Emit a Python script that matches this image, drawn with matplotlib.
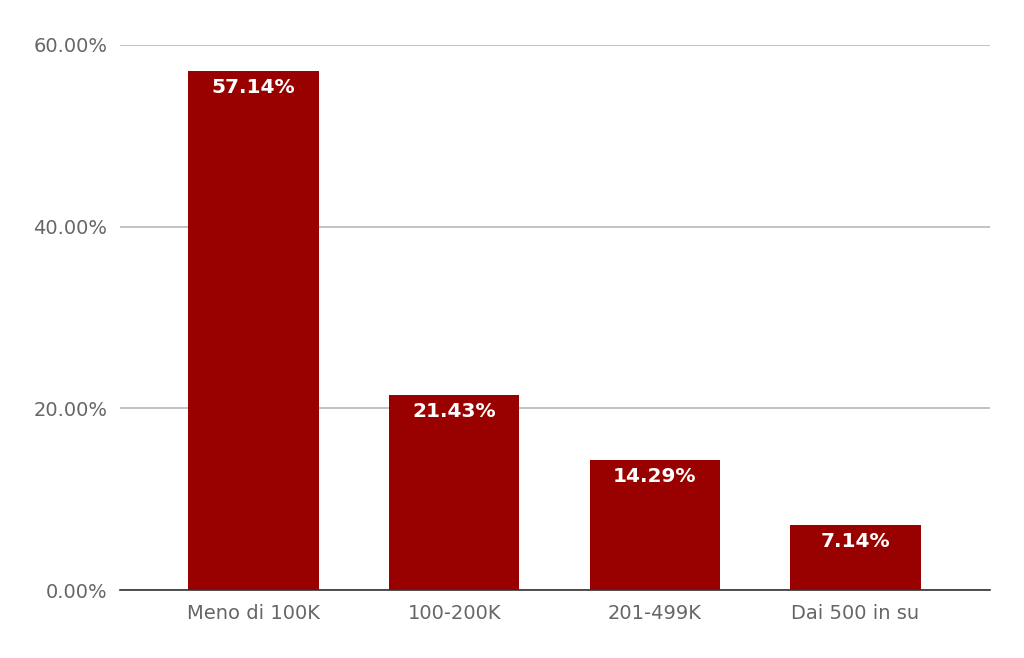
import matplotlib.pyplot as plt
from matplotlib.ticker import FuncFormatter

categories = ["Meno di 100K", "100-200K", "201-499K", "Dai 500 in su"]
shares = [57.14, 21.43, 14.29, 7.14]
y_ticks = [0, 20, 40, 60]

BAR_COLOR = "#990000"
TEXT_COLOR = "#666666"

plt.rcParams["font.family"] = ["DejaVu Sans"]

fig = plt.figure(figsize=(10.24, 6.58), dpi=100)
ax = fig.add_axes([120 / 1024, 68 / 658, 870 / 1024, 545 / 658])

x = range(len(categories))
bars = ax.bar(x, shares, width=0.65, color=BAR_COLOR, zorder=3)

for bar, value in zip(bars, shares):
    ax.annotate(
        f"{value:.2f}%",
        xy=(bar.get_x() + bar.get_width() / 2, bar.get_height()),
        xytext=(0, -5),
        textcoords="offset points",
        ha="center",
        va="top",
        color="white",
        fontsize=14.5,
        fontweight="bold",
        zorder=4,
    )

ax.set_xlim(-0.665, len(categories) - 1 + 0.67)
ax.set_ylim(0, 60)
ax.set_yticks(y_ticks)
ax.yaxis.set_major_formatter(FuncFormatter(lambda v, _: f"{v:.2f}%"))
ax.set_xticks(list(x))
ax.set_xticklabels(categories)

ax.grid(axis="y", color="#b7b7b7", linewidth=1.2, zorder=0)
ax.tick_params(axis="both", length=0, labelsize=14, labelcolor=TEXT_COLOR)
ax.tick_params(axis="x", pad=10)
ax.tick_params(axis="y", pad=9)

for side in ["top", "right", "left"]:
    ax.spines[side].set_visible(False)
ax.spines["bottom"].set_color("#333333")
ax.spines["bottom"].set_linewidth(1.2)
ax.spines["bottom"].set_zorder(5)

fig.savefig("out.png", dpi=100)
plt.close(fig)
